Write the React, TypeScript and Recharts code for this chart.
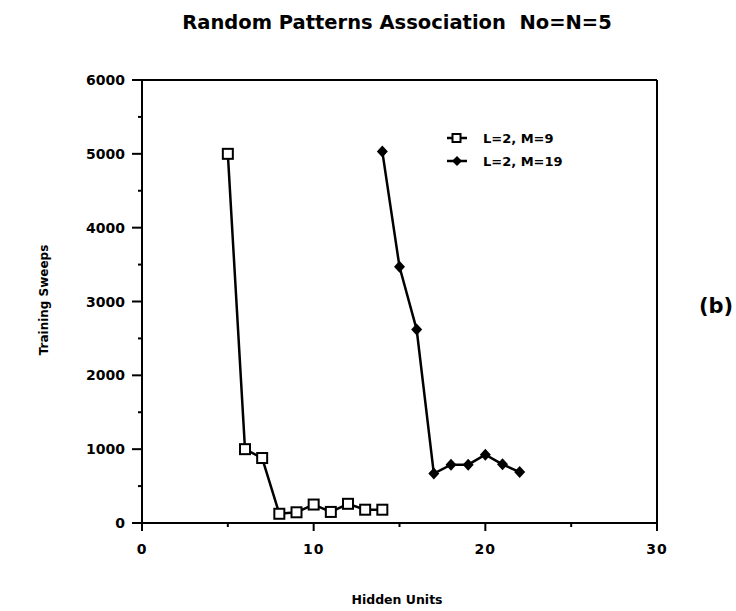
import React from 'react';
import { LineChart, Line, XAxis, YAxis, ReferenceLine, Legend } from 'recharts';

// Hidden units (x) and training sweeps (y)
const unitsM9 = [5, 6, 7, 8, 9, 10, 11, 12, 13, 14];
const sweepsM9 = [5000, 1000, 880, 125, 145, 250, 150, 260, 180, 180];
const unitsM19 = [14, 15, 16, 17, 18, 19, 20, 21, 22];
const sweepsM19 = [5030, 3470, 2620, 670, 790, 790, 925, 795, 690];

const xTicks = [0, 5, 10, 15, 20, 25, 30];
const yTicks = [0, 500, 1000, 1500, 2000, 2500, 3000, 3500, 4000, 4500, 5000, 5500, 6000];

const FONT = '"DejaVu Sans", sans-serif';

const dataM9 = unitsM9.map((u, i) => ({ units: u, sweeps: sweepsM9[i] }));
const dataM19 = unitsM19.map((u, i) => ({ units: u, sweeps: sweepsM19[i] }));

const SquareDot = (props: any) => {
  const { cx, cy, index } = props;
  if (cx == null || cy == null) return null;
  return <rect key={`sq-${index}`} x={cx - 5} y={cy - 5} width={10} height={10} fill="#fff" stroke="#000" strokeWidth={2} />;
};

const DiamondDot = (props: any) => {
  const { cx, cy, index } = props;
  if (cx == null || cy == null) return null;
  return (
    <polygon
      key={`dm-${index}`}
      points={`${cx},${cy - 6} ${cx + 5.5},${cy} ${cx},${cy + 6} ${cx - 5.5},${cy}`}
      fill="#000"
    />
  );
};

// ticks draw their own marks: long for labelled values, short in between
const YTick = ({ x, y, payload }: any) => {
  const major = payload.value % 1000 === 0;
  return (
    <g>
      <line x1={x} x2={x - (major ? 10 : 4)} y1={y} y2={y} stroke="#000" strokeWidth={2} />
      {major && (
        <text x={x - 17} y={y + 5} textAnchor="end" fontFamily={FONT} fontWeight="bold" fontSize={14} fill="#000">
          {payload.value}
        </text>
      )}
    </g>
  );
};

const XTick = ({ x, y, payload }: any) => {
  const major = payload.value % 10 === 0;
  return (
    <g>
      <line x1={x} x2={x} y1={y} y2={y + (major ? 8 : 4)} stroke="#000" strokeWidth={2} />
      {major && (
        <text x={x} y={y + 31} textAnchor="middle" fontFamily={FONT} fontWeight="bold" fontSize={14} letterSpacing={1} fill="#000">
          {payload.value}
        </text>
      )}
    </g>
  );
};

const LegendBox = () => (
  <svg width={150} height={50}>
    <line x1={2} x2={22} y1={12} y2={12} stroke="#000" strokeWidth={2.5} />
    <rect x={7.5} y={8} width={8} height={8} fill="#fff" stroke="#000" strokeWidth={2} />
    <text x={38} y={17} fontFamily={FONT} fontWeight="bold" fontSize={13}>L=2,  M=9</text>
    <line x1={2} x2={22} y1={35} y2={35} stroke="#000" strokeWidth={2.5} />
    <polygon points="12,30 17,35 12,40 7,35" fill="#000" />
    <text x={38} y={40} fontFamily={FONT} fontWeight="bold" fontSize={13}>L=2,  M=19</text>
  </svg>
);

export default function App() {
  return (
    <div style={{ position: 'absolute', left: 0, top: 0, width: 736, height: 611, background: '#fff' }}>
      <LineChart width={736} height={611} margin={{ top: 80, right: 79, bottom: 58, left: 82 }}>
        <XAxis
          type="number"
          dataKey="units"
          domain={[0, 30]}
          ticks={xTicks}
          interval={0}
          height={30}
          allowDataOverflow
          axisLine={{ stroke: '#000', strokeWidth: 2 }}
          tickLine={false}
          tickSize={0}
          tickMargin={0}
          tick={<XTick />}
        />
        <YAxis
          type="number"
          domain={[0, 6000]}
          ticks={yTicks}
          interval={0}
          width={60}
          axisLine={{ stroke: '#000', strokeWidth: 2 }}
          tickLine={false}
          tickSize={0}
          tickMargin={0}
          tick={<YTick />}
        />
        <ReferenceLine y={6000} stroke="#000" strokeWidth={2} />
        <ReferenceLine x={30} stroke="#000" strokeWidth={2} />
        <Line
          data={dataM9}
          dataKey="sweeps"
          name="L=2, M=9"
          type="linear"
          stroke="#000"
          strokeWidth={2.5}
          dot={SquareDot}
          activeDot={false}
          isAnimationActive={false}
        />
        <Line
          data={dataM19}
          dataKey="sweeps"
          name="L=2, M=19"
          type="linear"
          stroke="#000"
          strokeWidth={2.5}
          dot={DiamondDot}
          activeDot={false}
          isAnimationActive={false}
        />
        {/* middle/center keeps the legend from eating into the plot area */}
        <Legend
          layout="horizontal"
          verticalAlign="middle"
          align="center"
          content={<LegendBox />}
          wrapperStyle={{ position: 'absolute', left: 445, top: 126, width: 150, height: 50 }}
        />
      </LineChart>
      <svg width={736} height={611} style={{ position: 'absolute', left: 0, top: 0, pointerEvents: 'none' }}>
        <text x={397} y={29} textAnchor="middle" fontFamily={FONT} fontWeight="bold" fontSize={19.5} style={{ whiteSpace: 'pre' }}>
          Random Patterns Association  No=N=5
        </text>
        <text x={397} y={604} textAnchor="middle" fontFamily={FONT} fontWeight="bold" fontSize={12.5}>
          Hidden Units
        </text>
        <text transform="translate(48, 300) rotate(-90)" textAnchor="middle" fontFamily={FONT} fontWeight="bold" fontSize={12}>
          Training Sweeps
        </text>
        <text x={716} y={313} textAnchor="middle" fontFamily={FONT} fontWeight="bold" fontSize={21}>
          (b)
        </text>
      </svg>
    </div>
  );
}
